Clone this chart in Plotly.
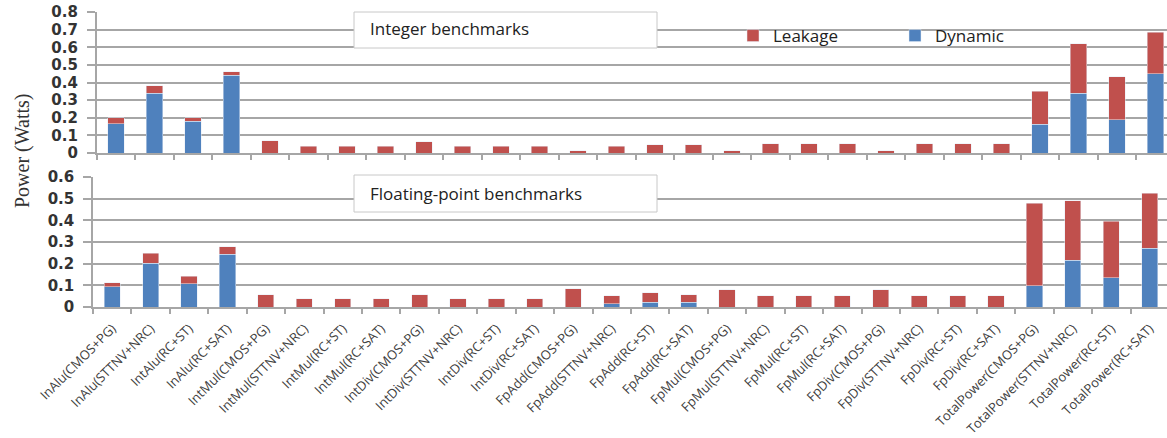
import plotly.graph_objects as go

categories = [
    "InAlu(CMOS+PG)", "InAlu(STTNV+NRC)", "IntAlu(RC+ST)", "InAlu(RC+SAT)",
    "IntMul(CMOS+PG)", "IntMul(STTNV+NRC)", "IntMul(RC+ST)", "IntMul(RC+SAT)",
    "IntDiv(CMOS+PG)", "IntDiv(STTNV+NRC)", "IntDiv(RC+ST)", "IntDiv(RC+SAT)",
    "FpAdd(CMOS+PG)", "FpAdd(STTNV+NRC)", "FpAdd(RC+ST)", "FpAdd(RC+SAT)",
    "FpMul(CMOS+PG)", "FpMul(STTNV+NRC)", "FpMul(RC+ST)", "FpMul(RC+SAT)",
    "FpDiv(CMOS+PG)", "FpDiv(STTNV+NRC)", "FpDiv(RC+ST)", "FpDiv(RC+SAT)",
    "TotalPower(CMOS+PG)", "TotalPower(STTNV+NRC)", "TotalPower(RC+ST)", "TotalPower(RC+SAT)",
]

int_dynamic = [0.165, 0.339, 0.180, 0.440, 0, 0, 0, 0, 0, 0, 0, 0,
               0, 0, 0, 0, 0, 0, 0, 0, 0, 0, 0, 0,
               0.163, 0.339, 0.190, 0.451]
int_leakage = [0.036, 0.044, 0.020, 0.021, 0.070, 0.038, 0.038, 0.038,
               0.063, 0.038, 0.038, 0.038, 0.013, 0.038, 0.047, 0.047,
               0.013, 0.053, 0.053, 0.053, 0.013, 0.053, 0.053, 0.053,
               0.188, 0.281, 0.244, 0.235]

fp_dynamic = [0.093, 0.201, 0.107, 0.243, 0, 0, 0, 0, 0, 0, 0, 0,
              0, 0.015, 0.023, 0.023, 0, 0, 0, 0, 0, 0, 0, 0,
              0.099, 0.216, 0.135, 0.271]
fp_leakage = [0.020, 0.048, 0.034, 0.035, 0.057, 0.039, 0.039, 0.039,
              0.057, 0.039, 0.039, 0.039, 0.085, 0.036, 0.042, 0.034,
              0.079, 0.051, 0.051, 0.051, 0.079, 0.051, 0.051, 0.051,
              0.379, 0.274, 0.261, 0.255]

RED = "#C0504D"
BLUE = "#4F81BD"
GRID = "#a6a6a6"
W, H = 1167, 438

fig = go.Figure()
fig.add_trace(go.Bar(x=categories, y=int_dynamic, name="Dynamic", marker_color=BLUE,
                     xaxis="x", yaxis="y", legendrank=2))
fig.add_trace(go.Bar(x=categories, y=int_leakage, name="Leakage", marker_color=RED,
                     xaxis="x", yaxis="y", legendrank=1))
fig.add_trace(go.Bar(x=categories, y=fp_dynamic, name="Dynamic", marker_color=BLUE,
                     xaxis="x2", yaxis="y2", showlegend=False))
fig.add_trace(go.Bar(x=categories, y=fp_leakage, name="Leakage", marker_color=RED,
                     xaxis="x2", yaxis="y2", showlegend=False))

tickfont_y = dict(family="DejaVu Sans", size=15, color="#333333", weight="bold")
common_y = dict(showgrid=True, gridcolor=GRID, gridwidth=1.5, showline=True,
                linecolor=GRID, linewidth=1.5, ticks="outside", ticklen=8,
                tickcolor=GRID, tickwidth=1.5, dtick=0.1, tickfont=tickfont_y,
                zeroline=False, ticklabelstandoff=6, fixedrange=True, automargin=False)
common_x = dict(type="category", showline=True, linecolor=GRID, linewidth=1.5,
                ticks="outside", tickson="boundaries", ticklen=5, tickcolor=GRID,
                tickwidth=1.5, showgrid=False, automargin=False, fixedrange=True)

fig.update_layout(
    width=W, height=H,
    margin=dict(l=0, r=0, t=0, b=0, autoexpand=False),
    paper_bgcolor="white", plot_bgcolor="white",
    barmode="stack", bargap=0.58,
    xaxis=dict(**common_x, domain=[96.7 / W, 1], range=[-0.5, 27.3],
               showticklabels=False, anchor="y"),
    yaxis=dict(**common_y, domain=[1 - 153 / H, 1 - 12 / H], range=[0, 0.8], anchor="x"),
    xaxis2=dict(**common_x, domain=[93 / W, 1], range=[-0.5, 27.45], anchor="y2",
                tickangle=-45, ticklabelstandoff=7,
                tickfont=dict(family="Open Sans", size=13, color="#404040")),
    yaxis2=dict(**common_y, domain=[1 - 307 / H, 1 - 177 / H], range=[0, 0.6], anchor="x2"),
    legend=dict(orientation="h", x=733 / W, xanchor="left", y=1 - 36 / H, yanchor="middle",
                bgcolor="rgba(0,0,0,0)", font=dict(family="Open Sans", size=17, color="#222222"),
                itemwidth=30, entrywidth=117, traceorder="normal"),
    showlegend=True,
)

# panel label boxes
for (y0, y1) in [(12, 48), (175, 212)]:
    fig.add_shape(type="rect", xref="paper", yref="paper",
                  x0=354 / W, x1=657 / W, y0=1 - y1 / H, y1=1 - y0 / H,
                  line=dict(color="#c8c8c8", width=1), fillcolor="white", layer="above")

fig.add_annotation(text="Integer benchmarks", xref="paper", yref="paper",
                   x=368 / W, y=1 - 29 / H, xanchor="left", yanchor="middle", showarrow=False,
                   font=dict(family="Open Sans", size=17, color="#222222"))
fig.add_annotation(text="Floating-point benchmarks", xref="paper", yref="paper",
                   x=368 / W, y=1 - 193 / H, xanchor="left", yanchor="middle", showarrow=False,
                   font=dict(family="Open Sans", size=17, color="#222222"))

fig.add_annotation(text="Power (Watts)", xref="paper", yref="paper",
                   x=22 / W, y=1 - 151 / H, xanchor="center", yanchor="middle",
                   textangle=-90, showarrow=False,
                   font=dict(family="Liberation Serif", size=20, color="#333333"))

fig.write_html("out.html", config={"displayModeBar": False},
               post_script="document.body.style.margin='0';document.body.style.padding='0';")
